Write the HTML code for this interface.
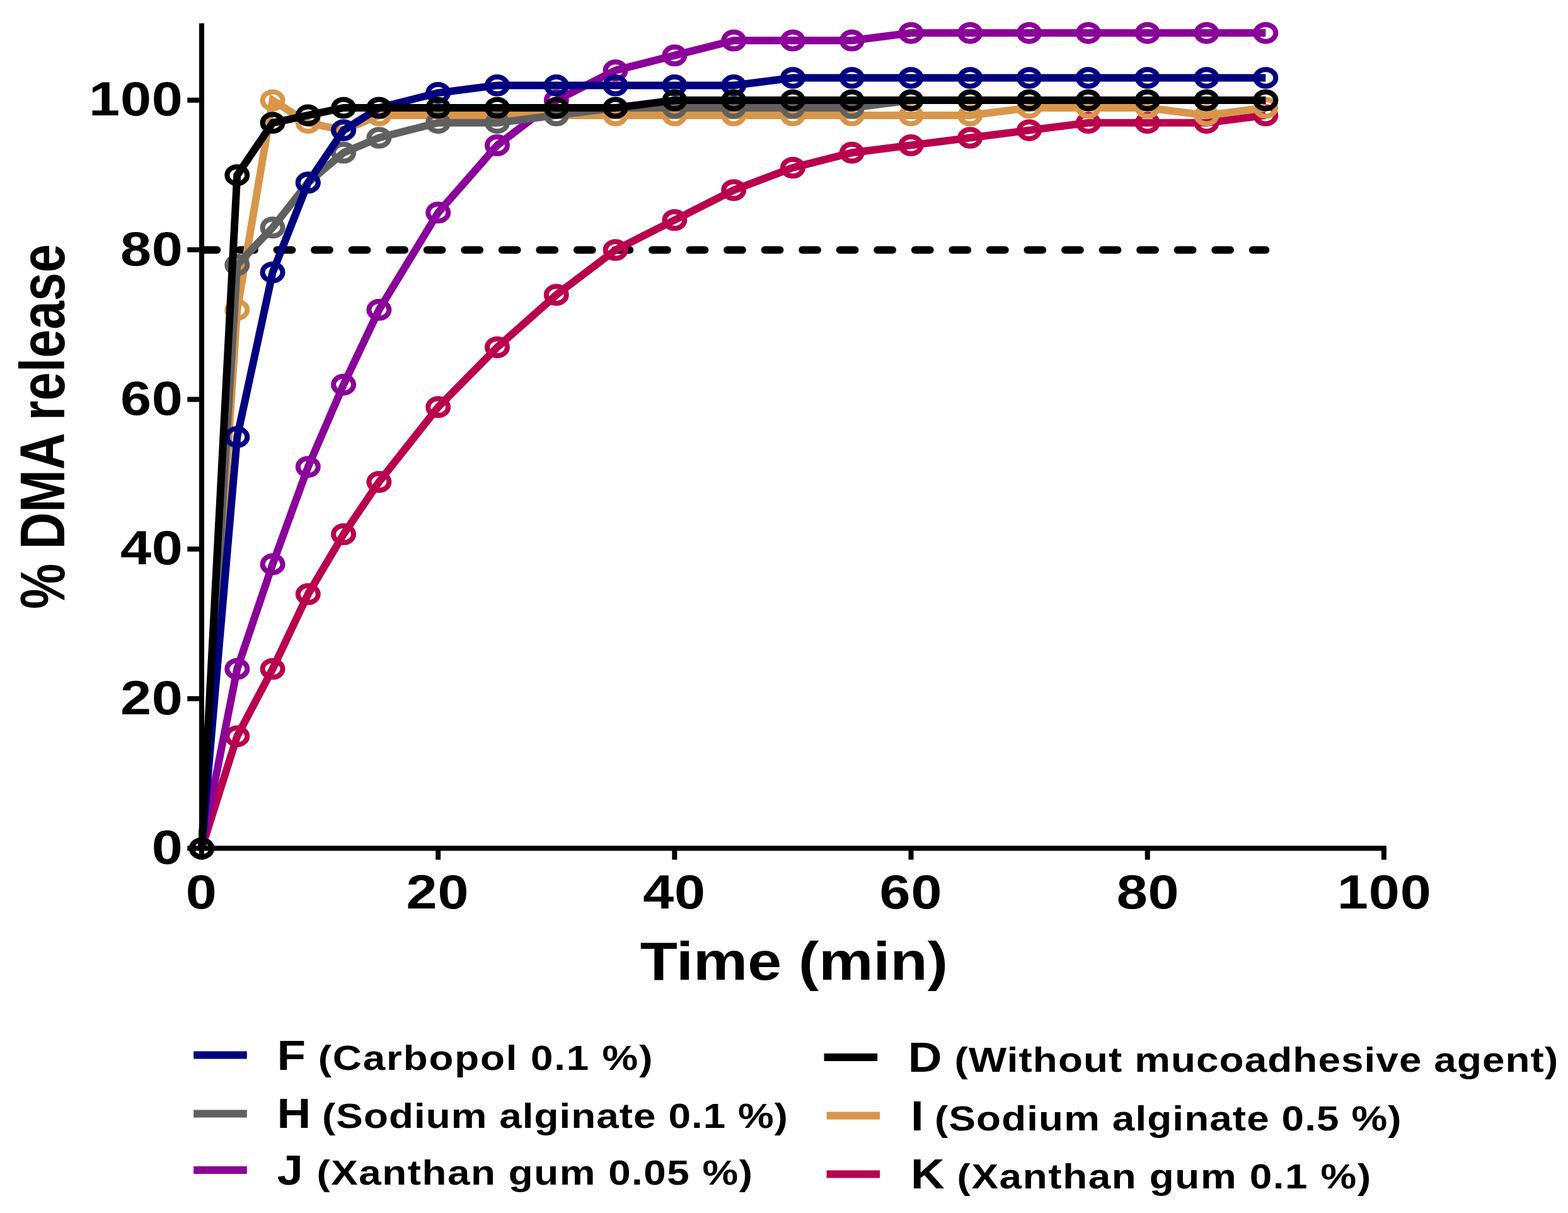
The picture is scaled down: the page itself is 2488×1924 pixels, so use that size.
<!DOCTYPE html>
<html lang="en"><head><meta charset="utf-8"><title>% DMA release vs Time (min)</title>
<style>html,body{margin:0;padding:0;background:#fff;width:2488px;height:1924px;overflow:hidden}svg{display:block}text{font-family:'Liberation Sans', sans-serif;font-weight:700;fill:#000}</style>
</head><body>
<svg width="2488" height="1924" viewBox="0 0 2488 1924">
<rect width="2488" height="1924" fill="#fff"/>
<line x1="320.5" y1="396.5" x2="2008.3" y2="396.5" stroke="#000" stroke-width="12" stroke-linecap="round" stroke-dasharray="23.8 35.745"/>
<g fill="none" stroke-linejoin="miter" stroke-miterlimit="10">
<g stroke="#B9004C">
<polyline points="320.0,1345.8 376.3,1167.8 432.6,1061.0 488.8,942.4 545.1,847.4 601.4,764.4 695.2,645.7 789.0,550.8 882.8,467.7 976.6,396.5 1070.4,349.0 1164.2,301.6 1258.0,266.0 1351.7,242.2 1445.5,230.4 1539.3,218.5 1633.1,206.6 1726.9,194.8 1820.7,194.8 1914.5,194.8 2008.3,182.9" stroke-width="12"/>
<ellipse cx="320.0" cy="1345.8" rx="16" ry="13.35" stroke-width="8"/>
<ellipse cx="376.3" cy="1167.8" rx="16" ry="13.35" stroke-width="8"/>
<ellipse cx="432.6" cy="1061.0" rx="16" ry="13.35" stroke-width="8"/>
<ellipse cx="488.8" cy="942.4" rx="16" ry="13.35" stroke-width="8"/>
<ellipse cx="545.1" cy="847.4" rx="16" ry="13.35" stroke-width="8"/>
<ellipse cx="601.4" cy="764.4" rx="16" ry="13.35" stroke-width="8"/>
<ellipse cx="695.2" cy="645.7" rx="16" ry="13.35" stroke-width="8"/>
<ellipse cx="789.0" cy="550.8" rx="16" ry="13.35" stroke-width="8"/>
<ellipse cx="882.8" cy="467.7" rx="16" ry="13.35" stroke-width="8"/>
<ellipse cx="976.6" cy="396.5" rx="16" ry="13.35" stroke-width="8"/>
<ellipse cx="1070.4" cy="349.0" rx="16" ry="13.35" stroke-width="8"/>
<ellipse cx="1164.2" cy="301.6" rx="16" ry="13.35" stroke-width="8"/>
<ellipse cx="1258.0" cy="266.0" rx="16" ry="13.35" stroke-width="8"/>
<ellipse cx="1351.7" cy="242.2" rx="16" ry="13.35" stroke-width="8"/>
<ellipse cx="1445.5" cy="230.4" rx="16" ry="13.35" stroke-width="8"/>
<ellipse cx="1539.3" cy="218.5" rx="16" ry="13.35" stroke-width="8"/>
<ellipse cx="1633.1" cy="206.6" rx="16" ry="13.35" stroke-width="8"/>
<ellipse cx="1726.9" cy="194.8" rx="16" ry="13.35" stroke-width="8"/>
<ellipse cx="1820.7" cy="194.8" rx="16" ry="13.35" stroke-width="8"/>
<ellipse cx="1914.5" cy="194.8" rx="16" ry="13.35" stroke-width="8"/>
<ellipse cx="2008.3" cy="182.9" rx="16" ry="13.35" stroke-width="8"/>
</g>
<g stroke="#8A0099">
<polyline points="320.0,1345.8 376.3,1061.0 432.6,894.9 488.8,740.6 545.1,610.1 601.4,491.4 695.2,337.2 789.0,230.4 882.8,159.1 976.6,111.7 1070.4,87.9 1164.2,64.2 1258.0,64.2 1351.7,64.2 1445.5,52.3 1539.3,52.3 1633.1,52.3 1726.9,52.3 1820.7,52.3 1914.5,52.3 2008.3,52.3" stroke-width="12"/>
<ellipse cx="320.0" cy="1345.8" rx="16" ry="13.35" stroke-width="8"/>
<ellipse cx="376.3" cy="1061.0" rx="16" ry="13.35" stroke-width="8"/>
<ellipse cx="432.6" cy="894.9" rx="16" ry="13.35" stroke-width="8"/>
<ellipse cx="488.8" cy="740.6" rx="16" ry="13.35" stroke-width="8"/>
<ellipse cx="545.1" cy="610.1" rx="16" ry="13.35" stroke-width="8"/>
<ellipse cx="601.4" cy="491.4" rx="16" ry="13.35" stroke-width="8"/>
<ellipse cx="695.2" cy="337.2" rx="16" ry="13.35" stroke-width="8"/>
<ellipse cx="789.0" cy="230.4" rx="16" ry="13.35" stroke-width="8"/>
<ellipse cx="882.8" cy="159.1" rx="16" ry="13.35" stroke-width="8"/>
<ellipse cx="976.6" cy="111.7" rx="16" ry="13.35" stroke-width="8"/>
<ellipse cx="1070.4" cy="87.9" rx="16" ry="13.35" stroke-width="8"/>
<ellipse cx="1164.2" cy="64.2" rx="16" ry="13.35" stroke-width="8"/>
<ellipse cx="1258.0" cy="64.2" rx="16" ry="13.35" stroke-width="8"/>
<ellipse cx="1351.7" cy="64.2" rx="16" ry="13.35" stroke-width="8"/>
<ellipse cx="1445.5" cy="52.3" rx="16" ry="13.35" stroke-width="8"/>
<ellipse cx="1539.3" cy="52.3" rx="16" ry="13.35" stroke-width="8"/>
<ellipse cx="1633.1" cy="52.3" rx="16" ry="13.35" stroke-width="8"/>
<ellipse cx="1726.9" cy="52.3" rx="16" ry="13.35" stroke-width="8"/>
<ellipse cx="1820.7" cy="52.3" rx="16" ry="13.35" stroke-width="8"/>
<ellipse cx="1914.5" cy="52.3" rx="16" ry="13.35" stroke-width="8"/>
<ellipse cx="2008.3" cy="52.3" rx="16" ry="13.35" stroke-width="8"/>
</g>
<g stroke="#D8964A">
<polyline points="320.0,1345.8 376.3,491.4 432.6,159.1 488.8,194.8 545.1,206.6 601.4,182.9 695.2,182.9 789.0,182.9 882.8,182.9 976.6,182.9 1070.4,182.9 1164.2,182.9 1258.0,182.9 1351.7,182.9 1445.5,182.9 1539.3,182.9 1633.1,171.0 1726.9,171.0 1820.7,171.0 1914.5,182.9 2008.3,171.0" stroke-width="12"/>
<ellipse cx="320.0" cy="1345.8" rx="16" ry="13.35" stroke-width="8"/>
<ellipse cx="376.3" cy="491.4" rx="16" ry="13.35" stroke-width="8"/>
<ellipse cx="432.6" cy="159.1" rx="16" ry="13.35" stroke-width="8"/>
<ellipse cx="488.8" cy="194.8" rx="16" ry="13.35" stroke-width="8"/>
<ellipse cx="545.1" cy="206.6" rx="16" ry="13.35" stroke-width="8"/>
<ellipse cx="601.4" cy="182.9" rx="16" ry="13.35" stroke-width="8"/>
<ellipse cx="695.2" cy="182.9" rx="16" ry="13.35" stroke-width="8"/>
<ellipse cx="789.0" cy="182.9" rx="16" ry="13.35" stroke-width="8"/>
<ellipse cx="882.8" cy="182.9" rx="16" ry="13.35" stroke-width="8"/>
<ellipse cx="976.6" cy="182.9" rx="16" ry="13.35" stroke-width="8"/>
<ellipse cx="1070.4" cy="182.9" rx="16" ry="13.35" stroke-width="8"/>
<ellipse cx="1164.2" cy="182.9" rx="16" ry="13.35" stroke-width="8"/>
<ellipse cx="1258.0" cy="182.9" rx="16" ry="13.35" stroke-width="8"/>
<ellipse cx="1351.7" cy="182.9" rx="16" ry="13.35" stroke-width="8"/>
<ellipse cx="1445.5" cy="182.9" rx="16" ry="13.35" stroke-width="8"/>
<ellipse cx="1539.3" cy="182.9" rx="16" ry="13.35" stroke-width="8"/>
<ellipse cx="1633.1" cy="171.0" rx="16" ry="13.35" stroke-width="8"/>
<ellipse cx="1726.9" cy="171.0" rx="16" ry="13.35" stroke-width="8"/>
<ellipse cx="1820.7" cy="171.0" rx="16" ry="13.35" stroke-width="8"/>
<ellipse cx="1914.5" cy="182.9" rx="16" ry="13.35" stroke-width="8"/>
<ellipse cx="2008.3" cy="171.0" rx="16" ry="13.35" stroke-width="8"/>
</g>
<g stroke="#606060">
<polyline points="320.0,1345.8 376.3,420.2 432.6,360.9 488.8,289.7 545.1,242.2 601.4,218.5 695.2,194.8 789.0,194.8 882.8,182.9 976.6,171.0 1070.4,171.0 1164.2,171.0 1258.0,171.0 1351.7,171.0 1445.5,159.1 1539.3,159.1 1633.1,159.1 1726.9,159.1 1820.7,159.1 1914.5,159.1 2008.3,159.1" stroke-width="12"/>
<ellipse cx="320.0" cy="1345.8" rx="16" ry="13.35" stroke-width="8"/>
<ellipse cx="376.3" cy="420.2" rx="16" ry="13.35" stroke-width="8"/>
<ellipse cx="432.6" cy="360.9" rx="16" ry="13.35" stroke-width="8"/>
<ellipse cx="488.8" cy="289.7" rx="16" ry="13.35" stroke-width="8"/>
<ellipse cx="545.1" cy="242.2" rx="16" ry="13.35" stroke-width="8"/>
<ellipse cx="601.4" cy="218.5" rx="16" ry="13.35" stroke-width="8"/>
<ellipse cx="695.2" cy="194.8" rx="16" ry="13.35" stroke-width="8"/>
<ellipse cx="789.0" cy="194.8" rx="16" ry="13.35" stroke-width="8"/>
<ellipse cx="882.8" cy="182.9" rx="16" ry="13.35" stroke-width="8"/>
<ellipse cx="976.6" cy="171.0" rx="16" ry="13.35" stroke-width="8"/>
<ellipse cx="1070.4" cy="171.0" rx="16" ry="13.35" stroke-width="8"/>
<ellipse cx="1164.2" cy="171.0" rx="16" ry="13.35" stroke-width="8"/>
<ellipse cx="1258.0" cy="171.0" rx="16" ry="13.35" stroke-width="8"/>
<ellipse cx="1351.7" cy="171.0" rx="16" ry="13.35" stroke-width="8"/>
<ellipse cx="1445.5" cy="159.1" rx="16" ry="13.35" stroke-width="8"/>
<ellipse cx="1539.3" cy="159.1" rx="16" ry="13.35" stroke-width="8"/>
<ellipse cx="1633.1" cy="159.1" rx="16" ry="13.35" stroke-width="8"/>
<ellipse cx="1726.9" cy="159.1" rx="16" ry="13.35" stroke-width="8"/>
<ellipse cx="1820.7" cy="159.1" rx="16" ry="13.35" stroke-width="8"/>
<ellipse cx="1914.5" cy="159.1" rx="16" ry="13.35" stroke-width="8"/>
<ellipse cx="2008.3" cy="159.1" rx="16" ry="13.35" stroke-width="8"/>
</g>
<g stroke="#000080">
<polyline points="320.0,1345.8 376.3,693.2 432.6,432.1 488.8,289.7 545.1,206.6 601.4,171.0 695.2,147.3 789.0,135.4 882.8,135.4 976.6,135.4 1070.4,135.4 1164.2,135.4 1258.0,123.5 1351.7,123.5 1445.5,123.5 1539.3,123.5 1633.1,123.5 1726.9,123.5 1820.7,123.5 1914.5,123.5 2008.3,123.5" stroke-width="12"/>
<ellipse cx="320.0" cy="1345.8" rx="16" ry="13.35" stroke-width="8"/>
<ellipse cx="376.3" cy="693.2" rx="16" ry="13.35" stroke-width="8"/>
<ellipse cx="432.6" cy="432.1" rx="16" ry="13.35" stroke-width="8"/>
<ellipse cx="488.8" cy="289.7" rx="16" ry="13.35" stroke-width="8"/>
<ellipse cx="545.1" cy="206.6" rx="16" ry="13.35" stroke-width="8"/>
<ellipse cx="601.4" cy="171.0" rx="16" ry="13.35" stroke-width="8"/>
<ellipse cx="695.2" cy="147.3" rx="16" ry="13.35" stroke-width="8"/>
<ellipse cx="789.0" cy="135.4" rx="16" ry="13.35" stroke-width="8"/>
<ellipse cx="882.8" cy="135.4" rx="16" ry="13.35" stroke-width="8"/>
<ellipse cx="976.6" cy="135.4" rx="16" ry="13.35" stroke-width="8"/>
<ellipse cx="1070.4" cy="135.4" rx="16" ry="13.35" stroke-width="8"/>
<ellipse cx="1164.2" cy="135.4" rx="16" ry="13.35" stroke-width="8"/>
<ellipse cx="1258.0" cy="123.5" rx="16" ry="13.35" stroke-width="8"/>
<ellipse cx="1351.7" cy="123.5" rx="16" ry="13.35" stroke-width="8"/>
<ellipse cx="1445.5" cy="123.5" rx="16" ry="13.35" stroke-width="8"/>
<ellipse cx="1539.3" cy="123.5" rx="16" ry="13.35" stroke-width="8"/>
<ellipse cx="1633.1" cy="123.5" rx="16" ry="13.35" stroke-width="8"/>
<ellipse cx="1726.9" cy="123.5" rx="16" ry="13.35" stroke-width="8"/>
<ellipse cx="1820.7" cy="123.5" rx="16" ry="13.35" stroke-width="8"/>
<ellipse cx="1914.5" cy="123.5" rx="16" ry="13.35" stroke-width="8"/>
<ellipse cx="2008.3" cy="123.5" rx="16" ry="13.35" stroke-width="8"/>
</g>
<g stroke="#000000">
<polyline points="320.0,1345.8 376.3,277.8 432.6,194.8 488.8,182.9 545.1,171.0 601.4,171.0 695.2,171.0 789.0,171.0 882.8,171.0 976.6,171.0 1070.4,159.1 1164.2,159.1 1258.0,159.1 1351.7,159.1 1445.5,159.1 1539.3,159.1 1633.1,159.1 1726.9,159.1 1820.7,159.1 1914.5,159.1 2008.3,159.1" stroke-width="12"/>
<ellipse cx="320.0" cy="1345.8" rx="16" ry="13.35" stroke-width="8"/>
<ellipse cx="376.3" cy="277.8" rx="16" ry="13.35" stroke-width="8"/>
<ellipse cx="432.6" cy="194.8" rx="16" ry="13.35" stroke-width="8"/>
<ellipse cx="488.8" cy="182.9" rx="16" ry="13.35" stroke-width="8"/>
<ellipse cx="545.1" cy="171.0" rx="16" ry="13.35" stroke-width="8"/>
<ellipse cx="601.4" cy="171.0" rx="16" ry="13.35" stroke-width="8"/>
<ellipse cx="695.2" cy="171.0" rx="16" ry="13.35" stroke-width="8"/>
<ellipse cx="789.0" cy="171.0" rx="16" ry="13.35" stroke-width="8"/>
<ellipse cx="882.8" cy="171.0" rx="16" ry="13.35" stroke-width="8"/>
<ellipse cx="976.6" cy="171.0" rx="16" ry="13.35" stroke-width="8"/>
<ellipse cx="1070.4" cy="159.1" rx="16" ry="13.35" stroke-width="8"/>
<ellipse cx="1164.2" cy="159.1" rx="16" ry="13.35" stroke-width="8"/>
<ellipse cx="1258.0" cy="159.1" rx="16" ry="13.35" stroke-width="8"/>
<ellipse cx="1351.7" cy="159.1" rx="16" ry="13.35" stroke-width="8"/>
<ellipse cx="1445.5" cy="159.1" rx="16" ry="13.35" stroke-width="8"/>
<ellipse cx="1539.3" cy="159.1" rx="16" ry="13.35" stroke-width="8"/>
<ellipse cx="1633.1" cy="159.1" rx="16" ry="13.35" stroke-width="8"/>
<ellipse cx="1726.9" cy="159.1" rx="16" ry="13.35" stroke-width="8"/>
<ellipse cx="1820.7" cy="159.1" rx="16" ry="13.35" stroke-width="8"/>
<ellipse cx="1914.5" cy="159.1" rx="16" ry="13.35" stroke-width="8"/>
<ellipse cx="2008.3" cy="159.1" rx="16" ry="13.35" stroke-width="8"/>
</g>
</g>
<g stroke="#000" stroke-width="8" fill="none">
<line x1="320.00" y1="37" x2="320.00" y2="1363.6"/>
<line x1="297.3" y1="1345.50" x2="2199.90" y2="1345.50"/>
<line x1="297.3" y1="1108.21" x2="320.00" y2="1108.21"/>
<line x1="297.3" y1="870.87" x2="320.00" y2="870.87"/>
<line x1="297.3" y1="633.53" x2="320.00" y2="633.53"/>
<line x1="297.3" y1="396.19" x2="320.00" y2="396.19"/>
<line x1="297.3" y1="158.85" x2="320.00" y2="158.85"/>
<line x1="695.18" y1="1345.50" x2="695.18" y2="1363.6"/>
<line x1="1070.36" y1="1345.50" x2="1070.36" y2="1363.6"/>
<line x1="1445.54" y1="1345.50" x2="1445.54" y2="1363.6"/>
<line x1="1820.72" y1="1345.50" x2="1820.72" y2="1363.6"/>
<line x1="2195.90" y1="1345.50" x2="2195.90" y2="1363.6"/>
</g>
<text transform="translate(290.7,1370.0) scale(1.151,1)" font-size="76.7" letter-spacing="0.7" text-anchor="end">0</text>
<text transform="translate(290.7,1132.6) scale(1.151,1)" font-size="76.7" letter-spacing="0.7" text-anchor="end">20</text>
<text transform="translate(290.7,895.3) scale(1.151,1)" font-size="76.7" letter-spacing="0.7" text-anchor="end">40</text>
<text transform="translate(290.7,657.9) scale(1.151,1)" font-size="76.7" letter-spacing="0.7" text-anchor="end">60</text>
<text transform="translate(290.7,420.6) scale(1.151,1)" font-size="76.7" letter-spacing="0.7" text-anchor="end">80</text>
<text transform="translate(290.7,183.3) scale(1.151,1)" font-size="76.7" letter-spacing="0.7" text-anchor="end">100</text>
<text transform="translate(319.7,1441.3) scale(1.151,1)" font-size="76.7" letter-spacing="0.7" text-anchor="middle">0</text>
<text transform="translate(694.4,1441.3) scale(1.151,1)" font-size="76.7" letter-spacing="0.7" text-anchor="middle">20</text>
<text transform="translate(1070.1,1441.3) scale(1.151,1)" font-size="76.7" letter-spacing="0.7" text-anchor="middle">40</text>
<text transform="translate(1445.5,1441.3) scale(1.151,1)" font-size="76.7" letter-spacing="0.7" text-anchor="middle">60</text>
<text transform="translate(1821.6,1441.3) scale(1.151,1)" font-size="76.7" letter-spacing="0.7" text-anchor="middle">80</text>
<text transform="translate(2196.7,1441.3) scale(1.151,1)" font-size="76.7" letter-spacing="0.7" text-anchor="middle">100</text>
<text transform="translate(1259.8,1553.5) scale(1.1405,1)" font-size="85" text-anchor="middle">Time (min)</text>
<text transform="translate(102.2,676.6) rotate(-90) scale(0.8036,1)" font-size="101" text-anchor="middle">% DMA release</text>
<rect x="307.2" y="1667.45" width="84.6" height="12.1" fill="#000080"/>
<text transform="translate(439.6,1696.6) scale(1.125,1)" font-size="66.3">F</text>
<text transform="translate(504.7,1696.6) scale(1.16,1)" font-size="55" textLength="457.5" lengthAdjust="spacing">(Carbopol 0.1 %)</text>
<rect x="307.2" y="1760.45" width="84.6" height="12.1" fill="#606060"/>
<text transform="translate(439.6,1789.2) scale(1.125,1)" font-size="66.3">H</text>
<text transform="translate(511.0,1789.2) scale(1.16,1)" font-size="55" textLength="637.1" lengthAdjust="spacing">(Sodium alginate 0.1 %)</text>
<rect x="307.2" y="1849.85" width="84.6" height="12.1" fill="#8A0099"/>
<text transform="translate(439.6,1879.0) scale(1.125,1)" font-size="66.3">J</text>
<text transform="translate(502.4,1879.0) scale(1.16,1)" font-size="55" textLength="596.3" lengthAdjust="spacing">(Xanthan gum 0.05 %)</text>
<rect x="1307.6" y="1670.95" width="84.6" height="12.1" fill="#000000"/>
<text transform="translate(1440.7,1700.1) scale(1.125,1)" font-size="66.3">D</text>
<text transform="translate(1514.6,1700.1) scale(1.16,1)" font-size="55" textLength="825.5" lengthAdjust="spacing">(Without mucoadhesive agent)</text>
<rect x="1311.6" y="1763.55" width="84.6" height="12.1" fill="#D8964A"/>
<text transform="translate(1445.0,1792.6) scale(1.125,1)" font-size="66.3">I</text>
<text transform="translate(1483.1,1792.6) scale(1.16,1)" font-size="55" textLength="638.3" lengthAdjust="spacing">(Sodium alginate 0.5 %)</text>
<rect x="1311.6" y="1856.35" width="84.6" height="12.1" fill="#B9004C"/>
<text transform="translate(1445.0,1885.4) scale(1.125,1)" font-size="66.3">K</text>
<text transform="translate(1518.5,1885.4) scale(1.16,1)" font-size="55" textLength="566.1" lengthAdjust="spacing">(Xanthan gum 0.1 %)</text>
</svg>
</body></html>
